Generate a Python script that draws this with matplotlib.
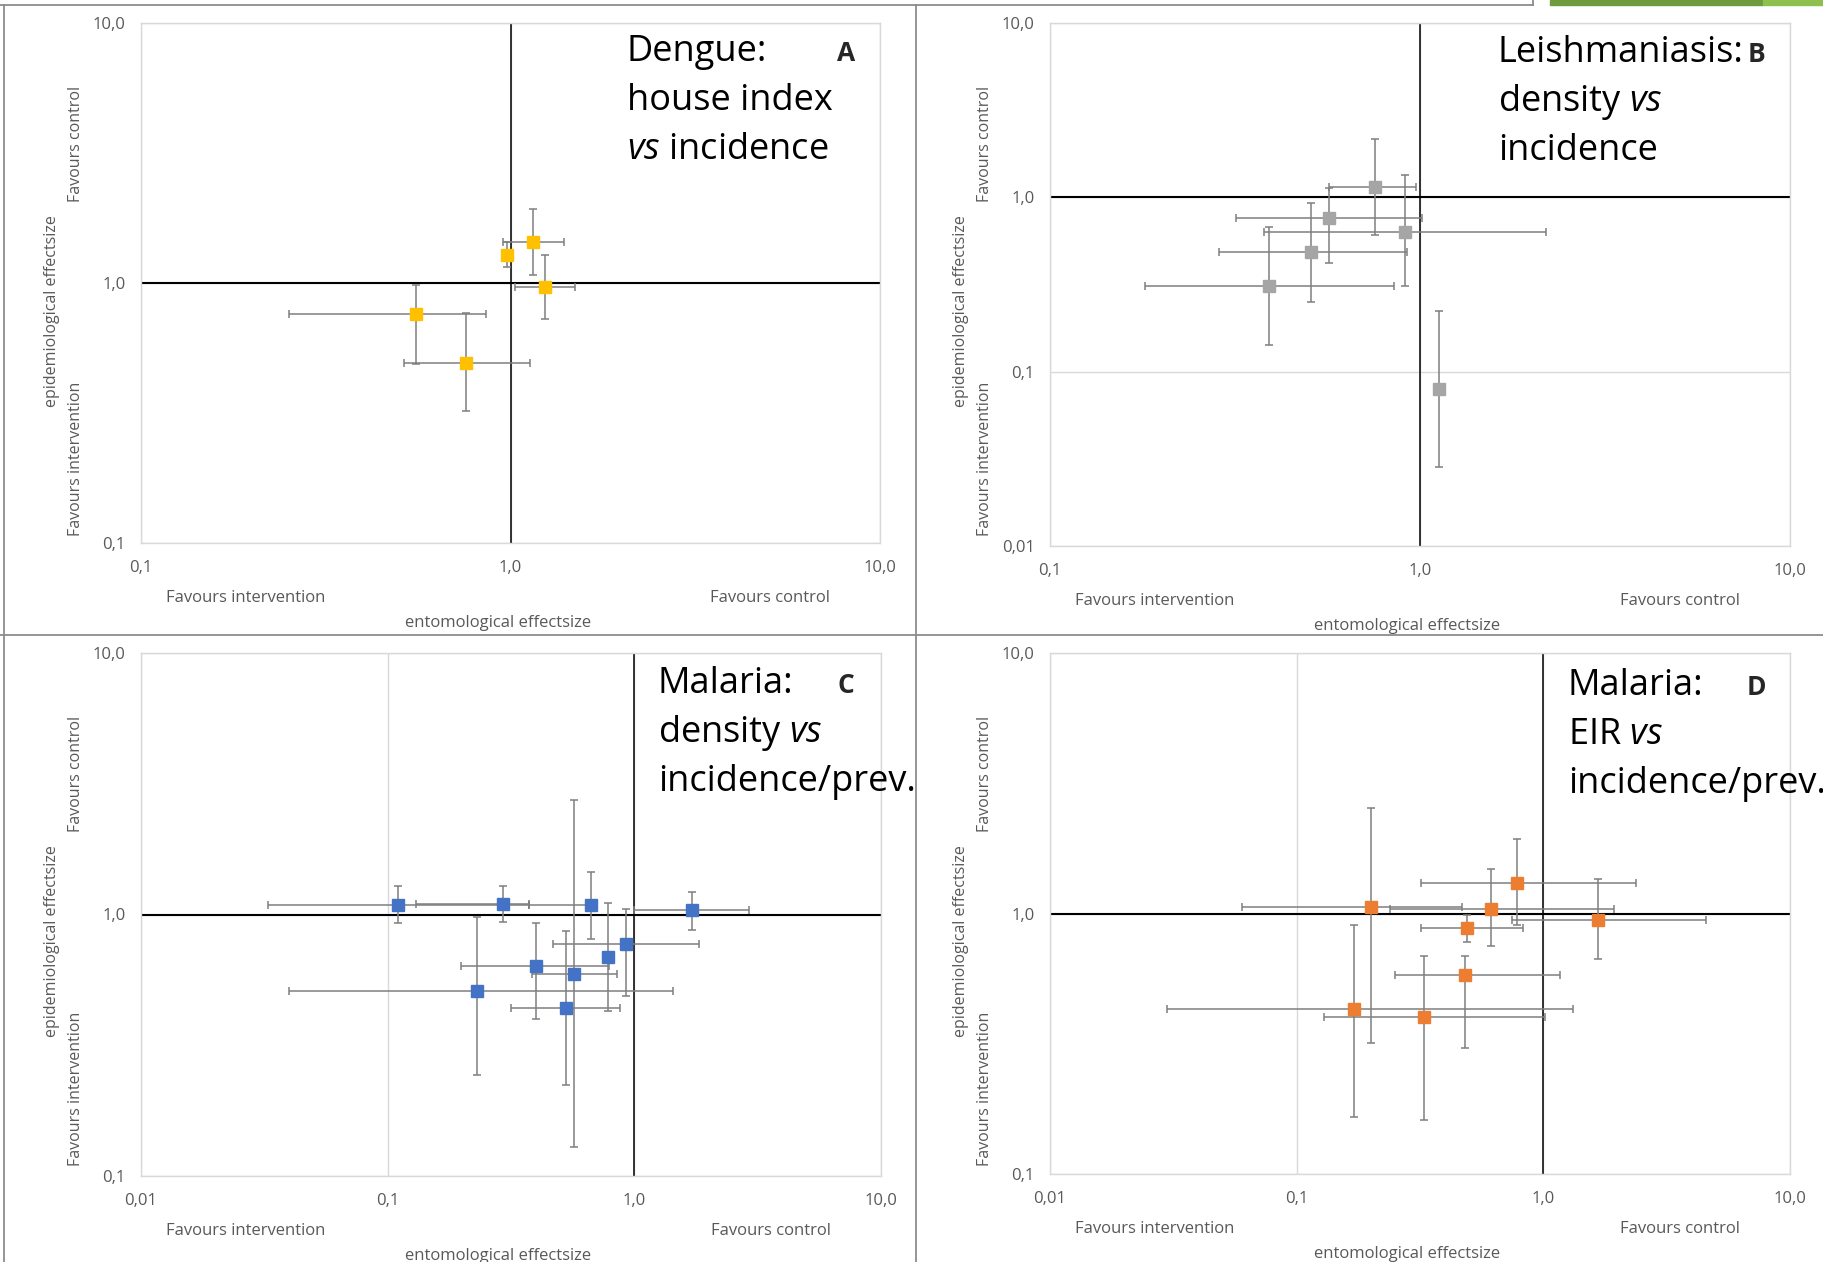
import matplotlib.pyplot as plt
from matplotlib.lines import Line2D
from matplotlib.patches import Rectangle
import numpy as np

plt.rcParams['font.family'] = ['Open Sans', 'DejaVu Sans']
plt.rcParams['mathtext.fontset'] = 'custom'
plt.rcParams['mathtext.rm'] = 'Open Sans'
plt.rcParams['mathtext.it'] = 'Open Sans:italic'

# ---- data ----
dec_2 = [0.1, 1, 10]
dec_3 = [0.01, 0.1, 1, 10]
lab_2 = ["0,1", "1,0", "10,0"]
lab_3 = ["0,01", "0,1", "1,0", "10,0"]

# A: dengue, house index vs incidence
a_x = [0.556, 0.759, 0.978, 1.147, 1.243]
a_xlo = [0.251, 0.514, 0.978, 0.954, 1.026]
a_xhi = [0.859, 1.127, 0.978, 1.40, 1.494]
a_y = [0.759, 0.492, 1.286, 1.441, 0.962]
a_ylo = [0.487, 0.322, 1.148, 1.073, 0.727]
a_yhi = [0.979, 0.766, 1.436, 1.92, 1.286]

# B: leishmaniasis, density vs incidence
b_x = [0.754, 0.567, 0.91, 0.508, 0.39, 1.127]
b_xlo = [0.567, 0.319, 0.379, 0.286, 0.181, 1.127]
b_xhi = [0.975, 1.011, 2.19, 0.92, 0.85, 1.127]
b_y = [1.148, 0.766, 0.633, 0.488, 0.312, 0.0796]
b_ylo = [0.607, 0.422, 0.312, 0.252, 0.142, 0.0285]
b_yhi = [2.15, 1.136, 1.34, 0.933, 0.675, 0.223]

# C: malaria, density vs incidence/prev.
c_x = [0.11, 0.294, 0.666, 1.72, 0.925, 0.785, 0.398, 0.571, 0.231, 0.529]
c_xlo = [0.0327, 0.13, 0.375, 1.0, 0.47, 0.785, 0.198, 0.385, 0.0397, 0.316]
c_xhi = [0.375, 0.375, 0.666, 2.915, 1.83, 0.785, 0.792, 0.849, 1.44, 0.875]
c_y = [1.085, 1.10, 1.085, 1.043, 0.769, 0.686, 0.636, 0.592, 0.508, 0.44]
c_ylo = [0.925, 0.935, 0.804, 0.872, 0.488, 0.429, 0.398, 0.129, 0.2425, 0.222]
c_yhi = [1.29, 1.29, 1.46, 1.216, 1.05, 1.11, 0.928, 2.745, 0.98, 0.865]

# D: malaria, EIR vs incidence/prev.
d_x = [0.78, 0.1997, 0.611, 1.661, 0.489, 0.481, 0.17, 0.3276]
d_xlo = [0.32, 0.0599, 0.239, 0.747, 0.32, 0.251, 0.0299, 0.1288]
d_xhi = [2.377, 0.466, 1.932, 4.55, 0.824, 1.172, 1.322, 1.018]
d_y = [1.308, 1.06, 1.042, 0.946, 0.88, 0.581, 0.431, 0.40]
d_ylo = [0.9, 0.318, 0.751, 0.67, 0.779, 0.3055, 0.1657, 0.1605]
d_yhi = [1.934, 2.543, 1.476, 1.356, 0.99, 0.685, 0.904, 0.685]

W, H = 1824, 1262
fig = plt.figure(figsize=(W / 100, H / 100), dpi=100)


def fx(px):
    return px / W


def fy(py):
    return 1 - py / H


GREY_TXT = '#595959'


def panel(box, xdec, xlab, ydec, ylab, x, xlo, xhi, y, ylo, yhi, color, lines, letter):
    left, top, right, bottom = box
    ax = fig.add_axes([fx(left), fy(bottom), (right - left) / W, (bottom - top) / H])
    ax.set_xscale('log')
    ax.set_yscale('log')
    ax.set_xlim(xdec[0], xdec[-1])
    ax.set_ylim(ydec[0], ydec[-1])
    ax.minorticks_off()
    ax.set_xticks(xdec)
    ax.set_xticklabels(xlab)
    ax.set_yticks(ydec)
    ax.set_yticklabels(ylab)
    ax.tick_params(length=0, labelsize=12, labelcolor=GREY_TXT)
    ax.tick_params(axis='x', pad=12)
    ax.tick_params(axis='y', pad=11)
    ax.grid(True, color='#D9D9D9', lw=1, zorder=0)
    ax.set_axisbelow(True)
    for s in ax.spines.values():
        s.set_color('#D9D9D9')
        s.set_linewidth(1)
    ax.axvline(1, color='black', lw=1.1, zorder=2)
    ax.axhline(1, color='black', lw=1.5, zorder=2)

    x, xlo, xhi = np.array(x), np.array(xlo), np.array(xhi)
    y, ylo, yhi = np.array(y), np.array(ylo), np.array(yhi)
    ax.errorbar(x, y, xerr=[x - xlo, xhi - x], yerr=[y - ylo, yhi - y], fmt='none',
                ecolor='#7F7F7F', elinewidth=1.1, capsize=3, capthick=1.1, zorder=3)
    ax.plot(x, y, 's', color=color, ms=8.5, zorder=4)

    # axis titles
    fig.text(fx(left - 89), fy(top + 288), "epidemiological effectsize", rotation=90,
             ha='center', va='center', fontsize=11.5, color=GREY_TXT)
    fig.text(fx(left - 65), fy(top + 121), "Favours control", rotation=90,
             ha='center', va='center', fontsize=11.5, color=GREY_TXT)
    fig.text(fx(left - 65), fy(top + 436), "Favours intervention", rotation=90,
             ha='center', va='center', fontsize=11.5, color=GREY_TXT)
    fig.text(fx(left + 105), fy(bottom + 55), "Favours intervention",
             ha='center', va='center', fontsize=12, color=GREY_TXT)
    fig.text(fx(right - 110), fy(bottom + 55), "Favours control",
             ha='center', va='center', fontsize=12, color=GREY_TXT)
    fig.text(fx(left + 357), fy(bottom + 80), "entomological effectsize",
             ha='center', va='center', fontsize=12, color=GREY_TXT)

    # annotation
    tx, ty, lx = lines[0], lines[1], lines[2]
    for i, s in enumerate(lines[3]):
        fig.text(fx(tx), fy(ty + i * 49), s, ha='left', va='baseline', fontsize=26)
    fig.text(fx(lx), fy(ty), letter, ha='center', va='baseline', fontsize=19,
             fontweight='bold', color='#262626')
    return ax


panel((141, 23, 880, 543), dec_2, lab_2, dec_2, lab_2,
      a_x, a_xlo, a_xhi, a_y, a_ylo, a_yhi, '#FFC000',
      (627, 61, 846, ["Dengue:", "house index", r"$\mathit{vs}$ incidence"]), "A")
panel((1050, 23, 1790, 546), dec_2, lab_2, dec_3, lab_3,
      b_x, b_xlo, b_xhi, b_y, b_ylo, b_yhi, '#A5A5A5',
      (1498, 62, 1757, ["Leishmaniasis:", r"density $\mathit{vs}$", "incidence"]), "B")
panel((141, 653, 881, 1176), dec_3, lab_3, dec_2, lab_2,
      c_x, c_xlo, c_xhi, c_y, c_ylo, c_yhi, '#4472C4',
      (658, 693, 846, ["Malaria:", r"density $\mathit{vs}$", "incidence/prev."]), "C")
panel((1050, 653, 1790, 1174), dec_3, lab_3, dec_2, lab_2,
      d_x, d_xlo, d_xhi, d_y, d_ylo, d_yhi, '#ED7D31',
      (1568, 695, 1756, ["Malaria:", r"EIR $\mathit{vs}$", "incidence/prev."]), "D")

# slide frame and dividers
frame = dict(color='#8C8C8C', lw=1.3, transform=fig.transFigure)
fig.add_artist(Line2D([0, fx(1533)], [fy(5), fy(5)], **frame))
fig.add_artist(Line2D([fx(1533), fx(1533)], [fy(0), fy(5)], **frame))
fig.add_artist(Line2D([fx(4), fx(4)], [fy(5), fy(1262)], **frame))
fig.add_artist(Line2D([fx(916), fx(916)], [fy(5), fy(1262)], **frame))
fig.add_artist(Line2D([0, 1], [fy(635), fy(635)], **frame))
fig.add_artist(Rectangle((fx(1550), fy(5)), fx(1763) - fx(1550), 5 / H,
                         color='#6E9B3F', transform=fig.transFigure))
fig.add_artist(Rectangle((fx(1763), fy(5)), 1 - fx(1763), 5 / H,
                         color='#8DC04F', transform=fig.transFigure))

fig.savefig('out.png', dpi=100)
